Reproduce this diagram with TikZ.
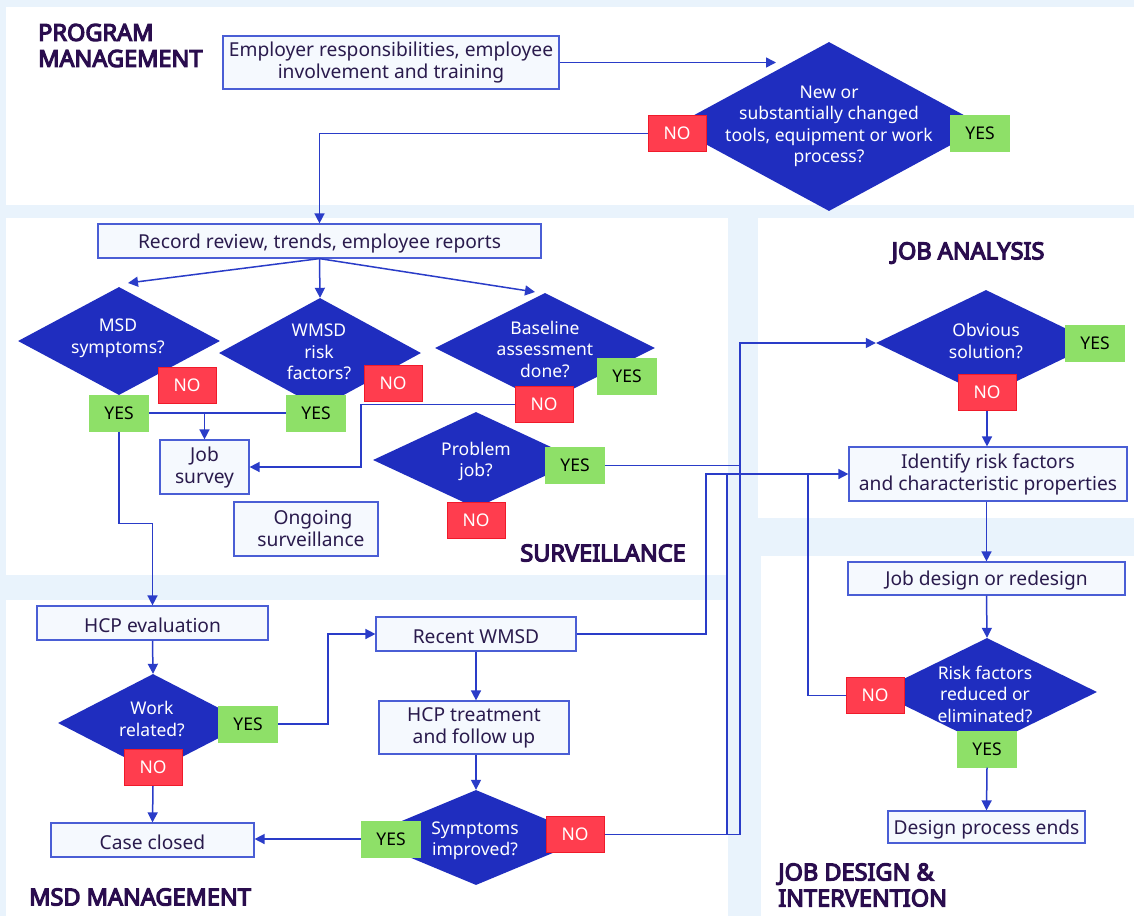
\documentclass[tikz,border=0pt]{standalone}
\usepackage{fontspec}
\setmainfont{Noto Sans}
\IfFontExistsTF{Noto Sans Bold}{\newfontfamily\ttlf{Noto Sans Bold}[FakeBold=1]}{\newfontfamily\ttlf{Noto Sans}[FakeBold=5]}
\usetikzlibrary{shapes.geometric,arrows.meta}
\definecolor{bg}{HTML}{E9F3FC}
\definecolor{diab}{HTML}{1F2DBF}
\definecolor{lineb}{HTML}{2A3CC8}
\definecolor{boxb}{HTML}{4A5ED5}
\definecolor{boxf}{HTML}{F5F9FE}
\definecolor{txt}{HTML}{2A1B4D}
\definecolor{ttlc}{HTML}{2A0D4E}
\definecolor{nor}{HTML}{FF3D4E}
\definecolor{nob}{HTML}{F01A2A}
\definecolor{yesg}{HTML}{8EE068}
\newcommand{\bxfont}{\fontsize{19.2}{22}\selectfont}
\newcommand{\dfont}{\fontsize{17.5}{21.5}\selectfont}
\newcommand{\ttfnt}{\ttlf\fontsize{23.5}{26}\selectfont}
\tikzset{
  panel/.style={fill=white,draw=none},
  box/.style={draw=boxb,fill=boxf,line width=1.2pt,inner sep=0pt,text=txt,align=center,font=\bxfont,
    execute at begin node={\rule{0pt}{19.5pt}}},
  dia/.style={diamond,fill=diab,draw=none,inner sep=0pt},
  diat/.style={text=white,align=center,font=\dfont,inner sep=0pt},
  yesbox/.style={fill=yesg,draw=none,text=black,minimum width=60pt,minimum height=37pt,inner sep=0pt,font=\dfont},
  nobox/.style={fill=nor,draw=nob,line width=1pt,text=white,minimum width=58pt,minimum height=36pt,inner sep=0pt,font=\dfont},
  conn/.style={draw=lineb,line width=1.5pt},
  arr/.style={conn,-{Triangle[length=10pt,width=10pt]}},
  ttl/.style={text=ttlc,font=\ttfnt,align=left,inner sep=0pt}
}
\begin{document}
\begin{tikzpicture}[x=1pt,y=-1pt]
\useasboundingbox (0,0) rectangle (1134,916);
% background and panels
\fill[bg] (0,0) rectangle (1134,916);
\fill[white] (6,7) rectangle (1134,205);
\fill[white] (6,218) rectangle (728,575);
\fill[white] (758,218) rectangle (1134,518);
\fill[white] (6,600) rectangle (728,916);
\fill[white] (761,556) rectangle (1134,916);

% titles
\node[ttl,anchor=west] (tpm) at (38,45.5) {PROGRAM\\MANAGEMENT};
\node[ttl] (tsv) at (603,553) {SURVEILLANCE};
\node[ttl] (tja) at (968,253) {JOB ANALYSIS};
\node[ttl,anchor=west] (tmsd) at (29,897) {MSD MANAGEMENT};
\node[ttl,anchor=west] (tjd) at (778,885) {JOB DESIGN \&\\INTERVENTION};

% boxes
\node[box,minimum width=336pt,minimum height=53pt] (emp) at (391,62.5) {Employer responsibilities, employee\\involvement and training};
\node[box,minimum width=443pt,minimum height=34pt] (rec) at (319.5,241) {Record review, trends, employee reports};
\node[box,minimum width=89pt,minimum height=54pt] (jobs) at (204.5,467) {Job\\survey};
\node[box,minimum width=144pt,minimum height=54pt] (ongo) at (306,529) {\hspace*{14pt}Ongoing\\\hspace*{10pt}surveillance};
\node[box,minimum width=278pt,minimum height=54pt] (ident) at (988,474) {Identify risk factors\\and characteristic properties};
\node[box,minimum width=277pt,minimum height=33pt] (jdes) at (986.5,578.5) {Job design or redesign};
\node[box,minimum width=197pt,minimum height=32pt] (dend) at (986.5,827) {Design process ends};
\node[box,minimum width=231pt,minimum height=34pt] (hcpe) at (152.5,623) {HCP evaluation};
\node[box,minimum width=200pt,minimum height=34pt] (rwmsd) at (476,634) {Recent WMSD};
\node[box,minimum width=190pt,minimum height=53pt] (hcpt) at (474,727.5) {HCP treatment\\and follow up};
\node[box,minimum width=203pt,minimum height=34pt] (cc) at (152.5,840) {Case closed};

% diamonds
\node[dia,minimum width=312pt,minimum height=169pt] (dtop) at (829,126.5) {};
\node[diat] (dtopt) at (829,126.5) {New or\\substantially changed\\tools, equipment or work\\process?};
\node[dia,minimum width=202pt,minimum height=108pt] (dmsd) at (119,341) {};
\node[diat] (dmsdt) at (118,338.5) {MSD\\symptoms?};
\node[dia,minimum width=202pt,minimum height=110pt] (dwm) at (320,353) {};
\node[diat] (dwmt) at (319,352) {WMSD\\risk\\factors?};
\node[dia,minimum width=220pt,minimum height=110pt] (dbase) at (545,348) {};
\node[diat] (dbaset) at (545,349) {Baseline\\assessment\\done?};
\node[dia,minimum width=206pt,minimum height=96pt] (dpj) at (476,460) {};
\node[diat] (dpjt) at (476,461.5) {Problem\\job?};
\node[dia,minimum width=220pt,minimum height=106pt] (dobv) at (986,343) {};
\node[diat] (dobvt) at (986,341) {Obvious\\solution?};
\node[dia,minimum width=220pt,minimum height=108pt] (drisk) at (987,692) {};
\node[diat] (drisktt) at (985,694) {Risk factors\\reduced or\\eliminated?};
\node[dia,minimum width=190pt,minimum height=98pt] (dwr) at (153,723) {};
\node[diat] (dwrt) at (152,719) {Work\\related?};
\node[dia,minimum width=228pt,minimum height=95pt] (dsym) at (476,837.5) {};
\node[diat] (dsymt) at (475,840.5) {Symptoms\\improved?};

% yes / no labels
\node[nobox] (no0) at (677,133.5) {NO};
\node[yesbox] (yes0) at (980,133.5) {YES};
\node[nobox] (nomsd) at (187,385.5) {NO};
\node[yesbox] (yesmsd) at (119,413) {YES};
\node[nobox] (nowm) at (393,383.5) {NO};
\node[yesbox] (yeswm) at (316,413) {YES};
\node[yesbox] (yesbase) at (627,376.5) {YES};
\node[nobox] (nobase) at (544,404.5) {NO};
\node[yesbox] (yespj) at (575,465.5) {YES};
\node[nobox] (nopj) at (476,520.5) {NO};
\node[yesbox] (yesobv) at (1095,343.5) {YES};
\node[nobox] (noobv) at (987,392) {NO};
\node[nobox] (norisk) at (875,695.5) {NO};
\node[yesbox] (yesrisk) at (987,749) {YES};
\node[yesbox] (yeswr) at (248,724) {YES};
\node[nobox] (nowr) at (153,767.5) {NO};
\node[yesbox] (yessym) at (391,839) {YES};
\node[nobox] (nosym) at (575,834.5) {NO};

% helper coordinates
\coordinate (tipA) at (776,62.5);
\coordinate (tipM) at (128,283);
\coordinate (tipB) at (535,292);
\coordinate (c361) at (361,404.5);
\coordinate (v740) at (740,465.5);
\coordinate (c706) at (706,474);
\coordinate (c727) at (727,474);
\coordinate (c808) at (808,474);
\coordinate (c328) at (328,724);

% connectors
\draw[arr] (emp.east) -- (tipA);
\draw[arr] (no0.west) -| (rec.north);
\draw[arr] (rec.south) -- (tipM);
\draw[arr] (rec.south) -- (dwm.north);
\draw[arr] (rec.south) -- (tipB);
\draw[conn] (yesmsd.east) -- (yeswm.west);
\draw[arr] (jobs.north |- yesmsd.east) -- (jobs.north);
\draw[arr] (nobase.west) -- (c361) |- (jobs.east);
\draw[arr] (yesmsd.south) -- ++(0,92) -| (hcpe.north);
\draw[arr] (yespj.east) -- (v740) |- (dobv.west);
\draw[conn] (nosym.east) -| (v740);
\draw[conn] (nosym.east) -| (c727);
\draw[arr] (rwmsd.east) -| (c706) -- (ident.west);
\draw[conn] (norisk.west) -| (c808);
\draw[arr] (noobv.south) -- (noobv.south |- ident.north);
\draw[arr] (ident.south -| jdes.north) -- (jdes.north);
\draw[arr] (jdes.south) -- (drisk.north);
\draw[arr] (yesrisk.south) -- (dend.north);
\draw[arr] (hcpe.south) -- (dwr.north);
\draw[arr] (nowr.south) -- (cc.north);
\draw[arr] (yeswr.east) -- (c328) |- (rwmsd.west);
\draw[arr] (rwmsd.south) -- (rwmsd.south |- hcpt.north);
\draw[arr] (hcpt.south -| dsym.north) -- (dsym.north);
\draw[arr] (yessym.west) -- (yessym.west -| cc.east);
\end{tikzpicture}
\end{document}
